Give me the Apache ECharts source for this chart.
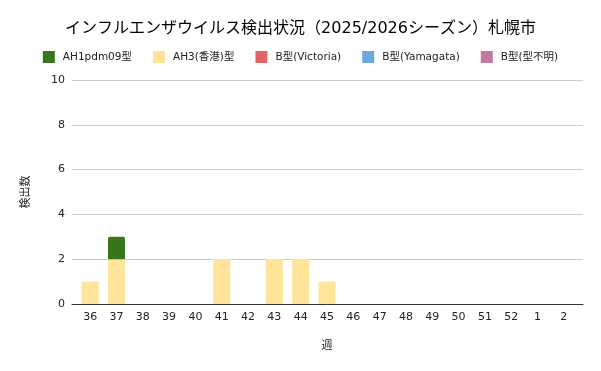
<!DOCTYPE html>
<html><head><meta charset="utf-8">
<script src="https://cdn.jsdelivr.net/npm/echarts@6/dist/echarts.min.js"></script>
<style>html,body{margin:0;padding:0;background:#fff}#c{width:601px;height:371px}</style>
</head><body><div id="c"></div>
<script>
const weeks = ['36','37','38','39','40','41','42','43','44','45','46','47','48','49','50','51','52','1','2'];
const ah1 = [0,1,0,0,0,0,0,0,0,0,0,0,0,0,0,0,0,0,0];
const ah3 = [1,2,0,0,0,2,0,2,2,1,0,0,0,0,0,0,0,0,0];
const bVic = [0,0,0,0,0,0,0,0,0,0,0,0,0,0,0,0,0,0,0];
const bYam = [0,0,0,0,0,0,0,0,0,0,0,0,0,0,0,0,0,0,0];
const bUnk = [0,0,0,0,0,0,0,0,0,0,0,0,0,0,0,0,0,0,0];
const yTicks = [0,2,4,6,8,10];
const names = ['AH1pdm09型','AH3(香港)型','B型(Victoria)','B型(Yamagata)','B型(型不明)'];
const colors = {'AH1pdm09型':'#38761d','AH3(香港)型':'#ffe599','B型(Victoria)':'#e06666','B型(Yamagata)':'#6fa8dc','B型(型不明)':'#c27ba0'};
const font = '"DejaVu Sans", "Noto Sans CJK JP", sans-serif';
function mk(name, data){
  return {name, type:'bar', stack:'t', data: data.map(v=>v===0?null:v), barWidth:17,
    xAxisIndex:0, yAxisIndex:0, itemStyle:{color:colors[name]}};
}
const series = [mk(names[1],ah3), mk(names[0],ah1), mk(names[2],bVic), mk(names[3],bYam), mk(names[4],bUnk)];
series[1].itemStyle.borderRadius=[2,2,0,0];
const yMax = yTicks[yTicks.length-1];
const chart = echarts.init(document.getElementById('c'));
chart.setOption({
  animation:false,
  title:{text:'インフルエンザウイルス検出状況（2025/2026シーズン）札幌市', left:'center', top:16,
    textStyle:{fontFamily:font, fontSize:16, fontWeight:'normal', color:'#000'}},
  legend:{data:names.map(n=>({name:n, icon:'rect'})), top:46, left:'center', itemWidth:12, itemHeight:12, itemGap:21,
    textStyle:{fontFamily:font, fontSize:10.5, color:'#222', padding:[0,0,0,3]}},
  grid:[{left:77, right:24, top:80, bottom:67},{left:72, right:18, top:80, bottom:67}],
  xAxis:[{gridIndex:0, type:'category', data:weeks, name:'週', nameLocation:'middle', nameGap:37,
    nameTextStyle:{fontFamily:font, fontSize:11, color:'#222'},
    axisLine:{show:false}, axisTick:{show:false},
    axisLabel:{fontFamily:font, fontSize:11, color:'#222', margin:8}},
    {gridIndex:1, type:'value', min:0, max:1, axisLabel:{show:false}, axisTick:{show:false}, splitLine:{show:false},
     axisLine:{show:true, lineStyle:{color:'#333'}}}],
  yAxis:[{gridIndex:0, type:'value', min:0, max:yMax, show:false, splitLine:{show:false}},
    {gridIndex:1, type:'value', min:0, max:yMax, interval:2, name:'検出数', nameLocation:'middle', nameGap:40,
    nameTextStyle:{fontFamily:font, fontSize:11, color:'#222'},
    axisLine:{show:false}, axisTick:{show:false},
    splitLine:{lineStyle:{color:'#ccc'}},
    axisLabel:{fontFamily:font, fontSize:11, color:'#222', margin:7}}],
  series
});
</script></body></html>
